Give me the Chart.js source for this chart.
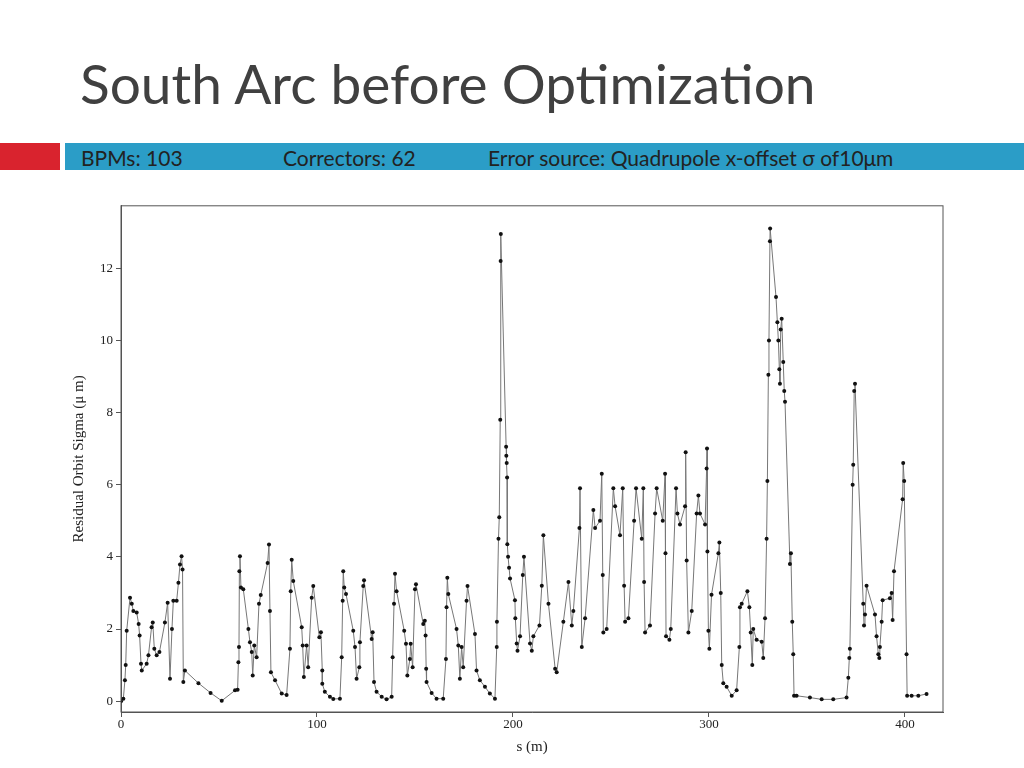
<!DOCTYPE html>
<html>
<head>
<meta charset="utf-8">
<script src="https://cdn.jsdelivr.net/npm/chart.js@4/dist/chart.umd.min.js"></script>
<style>
body{margin:0;width:1024px;height:768px;background:#fff;position:relative;overflow:hidden;font-family:"Open Sans",sans-serif;}
#title{position:absolute;left:80px;top:50px;font-size:55px;color:#404040;font-family:Lato,"Open Sans",sans-serif;}
#red{position:absolute;left:0;top:143px;width:60px;height:27px;background:#d9232e;}
#bar{position:absolute;left:65px;top:143px;width:959px;height:27px;background:#2b9dc7;color:#222;font-size:21px;line-height:27px;font-family:Lato,sans-serif;}
#bar span{position:absolute;top:1px;}
#wrap{position:absolute;left:70px;top:195px;width:885px;height:565px;}
</style>
</head>
<body>
<div id="title">South Arc before Optimization</div>
<div id="red"></div>
<div id="bar"><span style="left:16px">BPMs: 103</span><span style="left:218px">Correctors: 62</span><span style="left:423px">Error source: Quadrupole x-offset σ of10μm</span></div>
<div id="wrap"><canvas id="chart" width="885" height="565"></canvas></div>
<script>
// s positions (m) and residual orbit sigma (um)
const sPos = [0,1.2,2,2.4,2.9,4.6,5.5,6.3,8,9,9.5,10.2,10.6,13.1,14,15.6,16.2,17,18.2,19.6,22.4,23.8,25,26,26.7,28.4,29.3,30.1,30.9,31.4,31.8,32.6,39.5,45.7,51.4,58.2,59.5,59.9,60.2,60.4,60.7,61.2,62.4,65,65.8,66.7,67.2,68,69.2,70.4,71.3,74.8,75.5,76,76.5,78.6,82,84.5,86.2,86.6,87.1,87.9,92.2,92.7,93.3,94.7,95.5,97.3,98.1,101.2,102,102.7,102.7,104,106.6,108.3,111.7,112.6,113.1,113.4,113.9,114.8,118.5,119.4,120.2,121.6,121.9,123.6,124,127.9,128.4,129.1,130.4,133,135.5,138.1,138.6,139.3,139.8,140.6,144.5,145.4,146.1,147.4,147.8,148.8,150,150.5,154.2,155,155.4,155.7,155.9,158.5,161,164.4,165.8,166.1,166.5,167,171.2,172.1,172.9,173.8,174.6,176.3,176.8,180.6,181.4,183.1,185.7,188.2,190.8,191.7,191.8,192.6,193,193.5,193.7,193.8,196.5,196.6,196.8,197,197.1,197.5,198,198.5,201,201.2,201.9,202.3,203.6,205,205.6,208.7,209.6,210.4,213.5,214.7,215.5,218.1,221.5,222.3,225.7,228.3,230,230.8,233.9,234.2,235.1,236.8,241,241.9,244.4,245.3,245.8,246.1,247.8,251.2,252.1,254.6,256,256.7,257.2,258.9,261.8,262.8,265.7,266.5,266.9,267.4,269.9,272.5,273.3,276.4,277.6,277.8,278.1,279.8,280.5,283.2,283.9,285.2,287.8,288.1,288.6,289.5,291.2,293.7,294.6,295.4,298,298.8,299,299.2,299.7,300.2,301.3,304.8,305.3,306,306.5,307.3,309,311.6,314.1,315.5,315.8,316.7,319.6,320.6,321.3,322.1,322.6,324.3,326.9,327.7,328.6,329.4,329.8,330.3,330.6,331.1,331.2,334.2,334.9,335.4,335.9,336.2,336.6,337.1,337.9,338.4,338.8,341.3,341.8,342.5,343,343.4,344.7,351.5,357.5,363.4,370.2,371.1,371.6,371.9,373.3,373.6,374.1,374.5,378.7,379.1,379.6,380.4,384.7,385.5,386.4,386.9,387.2,388.1,388.6,392.3,393.2,393.7,394.4,398.8,399.1,399.6,400.8,401.1,403.4,406.8,411];
const sigma = [0,0.07,0.58,1.0,1.95,2.87,2.7,2.5,2.46,2.14,1.82,1.04,0.85,1.04,1.27,2.05,2.18,1.45,1.27,1.36,2.18,2.73,0.62,2.0,2.78,2.78,3.28,3.79,4.02,3.65,0.53,0.85,0.5,0.23,0.01,0.3,0.32,1.08,1.5,3.6,4.02,3.15,3.1,2.0,1.63,1.36,0.71,1.54,1.22,2.7,2.94,3.83,4.34,2.5,0.8,0.58,0.21,0.17,1.45,3.05,3.92,3.33,2.05,1.54,0.67,1.54,0.94,2.87,3.19,1.77,1.91,0.85,0.48,0.26,0.12,0.06,0.07,1.22,2.78,3.6,3.15,2.97,1.95,1.5,0.62,0.94,1.63,3.19,3.35,1.72,1.91,0.53,0.26,0.12,0.05,0.12,1.22,2.7,3.53,3.05,1.95,1.59,0.71,1.17,1.59,0.94,3.1,3.24,2.14,2.23,1.82,0.9,0.53,0.23,0.07,0.07,1.17,2.6,3.42,2.97,2.0,1.54,0.62,1.5,0.94,2.78,3.19,1.86,0.85,0.58,0.4,0.21,0.07,1.5,2.2,4.5,5.1,7.8,12.2,12.95,7.05,6.8,6.6,6.2,4.35,4.0,3.7,3.4,2.8,2.3,1.6,1.4,1.8,3.5,4.0,1.6,1.4,1.8,2.1,3.2,4.6,2.7,0.9,0.8,2.2,3.3,2.1,2.5,4.8,5.9,1.5,2.3,5.3,4.8,5.0,6.3,3.5,1.9,2.0,5.9,5.4,4.6,5.9,3.2,2.2,2.3,5.0,5.9,4.5,5.9,3.3,1.9,2.1,5.2,5.9,5.0,6.3,4.1,1.8,1.7,2.0,5.9,5.2,4.9,5.4,6.9,3.9,1.9,2.5,5.2,5.7,5.2,4.9,6.45,7.0,4.15,1.95,1.45,2.95,4.1,4.4,3.0,1.0,0.5,0.4,0.15,0.3,1.5,2.6,2.7,3.05,2.6,1.9,1.0,2.0,1.7,1.65,1.2,2.3,4.5,6.1,9.05,10.0,12.75,13.1,11.2,10.5,10.0,9.2,8.8,10.3,10.6,9.4,8.6,8.3,3.8,4.1,2.2,1.3,0.15,0.15,0.1,0.05,0.05,0.1,0.65,1.2,1.45,6.0,6.55,8.6,8.8,2.7,2.1,2.4,3.2,2.4,1.8,1.3,1.2,1.5,2.2,2.8,2.85,3.0,2.25,3.6,5.6,6.6,6.1,1.3,0.15,0.15,0.15,0.2];
const xTicks = [0,100,200,300,400];
const yTicks = [0,2,4,6,8,10,12];

const boxPlugin = {
  id: 'box',
  afterDraw(c) {
    const a = c.chartArea, ctx = c.ctx;
    ctx.save();
    ctx.strokeStyle = '#555';
    ctx.lineWidth = 1;
    ctx.strokeRect(a.left, a.top, a.right - a.left, a.bottom - a.top);
    ctx.restore();
  }
};

new Chart(document.getElementById('chart'), {
  type: 'scatter',
  data: {
    datasets: [{
      data: sPos.map((s, i) => ({x: s, y: sigma[i]})),
      showLine: true,
      borderColor: '#777',
      borderWidth: 1,
      pointRadius: 2,
      pointBackgroundColor: '#111',
      pointBorderColor: '#111',
      pointBorderWidth: 0
    }]
  },
  options: {
    responsive: false,
    animation: false,
    layout: {padding: {top: 7, right: 12}},
    plugins: {legend: {display: false}, tooltip: {enabled: false}},
    scales: {
      x: {
        type: 'linear', min: 0, max: 419.4,
        afterFit(s) { s.height = 48; },
        afterBuildTicks(s) { s.ticks = xTicks.map(v => ({value: v})); },
        grid: {drawOnChartArea: false, tickLength: 5, color: '#555'},
        border: {color: '#555'},
        ticks: {color: '#222', font: {family: 'Liberation Serif', size: 13}, padding: 0},
        title: {display: true, text: 's (m)', color: '#222', font: {family: 'Liberation Serif', size: 15}, padding: {top: 2}}
      },
      y: {
        min: -0.3, max: 13.73,
        afterFit(s) { s.width = 51; },
        afterBuildTicks(s) { s.ticks = yTicks.map(v => ({value: v})); },
        grid: {drawOnChartArea: false, tickLength: 5, color: '#555'},
        border: {color: '#555'},
        ticks: {color: '#222', font: {family: 'Liberation Serif', size: 13}, padding: 3},
        title: {display: true, text: 'Residual Orbit Sigma (μ m)', color: '#222', font: {family: 'Liberation Serif', size: 15}, padding: 0}
      }
    }
  },
  plugins: [boxPlugin]
});
</script>
</body>
</html>
